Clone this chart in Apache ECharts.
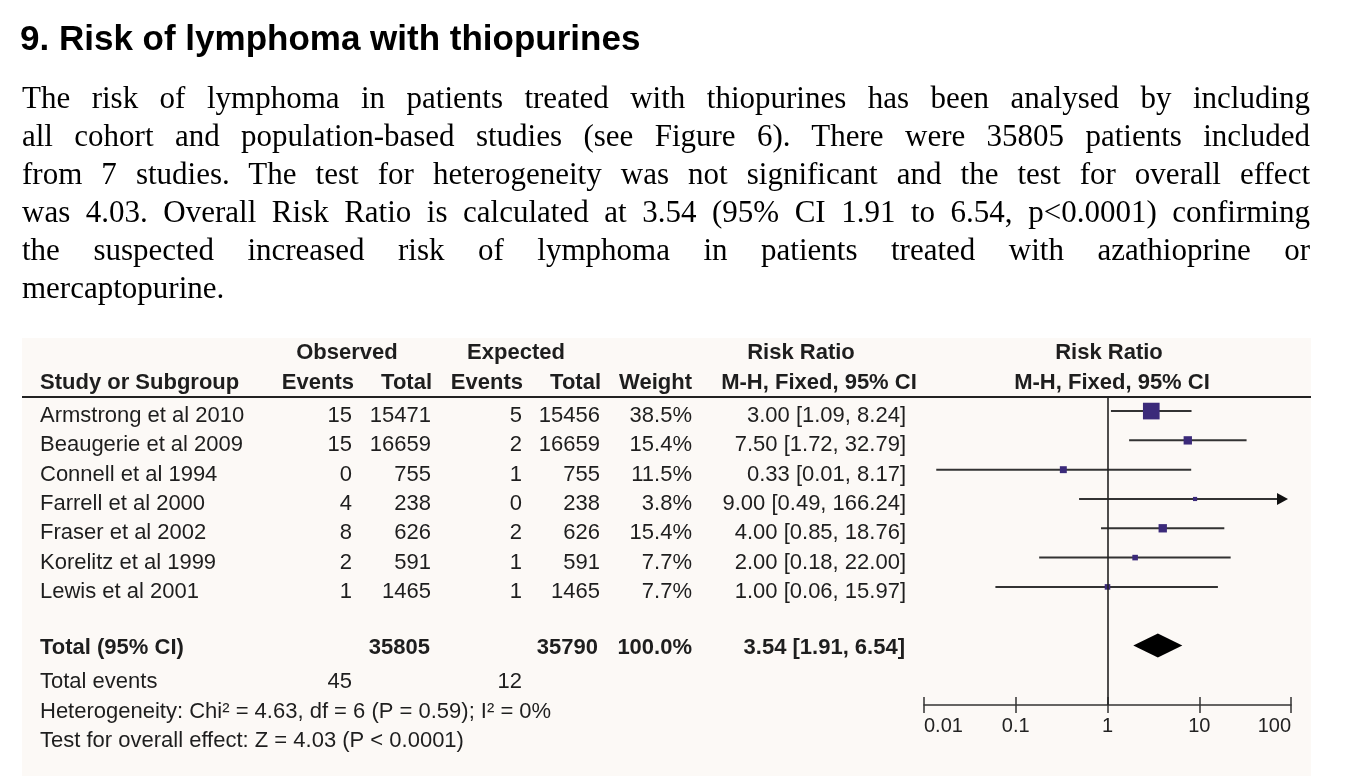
<!DOCTYPE html>
<html>
<head>
<meta charset="utf-8">
<script src="https://cdn.jsdelivr.net/npm/echarts@6/dist/echarts.min.js"></script>
<style>
  html, body { margin: 0; padding: 0; background: #ffffff; width: 1349px; height: 781px; overflow: hidden; }
  #chart { position: absolute; left: 0; top: 0; width: 1349px; height: 781px; }
  #heading { position: absolute; left: 20px; top: 17px; font: bold 35px "Liberation Sans", Arial, sans-serif; color: #000; line-height: 42px; white-space: nowrap; z-index: 2; }
  #para { position: absolute; left: 22px; top: 79px; width: 1288px; font: 31px "Liberation Serif", "Times New Roman", serif; color: #000; line-height: 38px; z-index: 2; }
  #para .ln { text-align: justify; text-align-last: justify; white-space: nowrap; }
  #para .ln.last { text-align: left; text-align-last: left; }
</style>
</head>
<body>
<div id="chart"></div>
<div id="heading">9. Risk of lymphoma with thiopurines</div>
<div id="para">
  <div class="ln">The risk of lymphoma in patients treated with thiopurines has been analysed by including</div>
  <div class="ln">all cohort and population-based studies (see Figure 6). There were 35805 patients included</div>
  <div class="ln">from 7 studies. The test for heterogeneity was not significant and the test for overall effect</div>
  <div class="ln">was 4.03. Overall Risk Ratio is calculated at 3.54 (95% CI 1.91 to 6.54, p&lt;0.0001) confirming</div>
  <div class="ln">the suspected increased risk of lymphoma in patients treated with azathioprine or</div>
  <div class="ln last">mercaptopurine.</div>
</div>
<script>
// ---------------- data ----------------
const studies   = ['Armstrong et al 2010', 'Beaugerie et al 2009', 'Connell et al 1994', 'Farrell et al 2000', 'Fraser et al 2002', 'Korelitz et al 1999', 'Lewis et al 2001'];
const obsEvents = [15, 15, 0, 4, 8, 2, 1];
const obsTotal  = [15471, 16659, 755, 238, 626, 591, 1465];
const expEvents = [5, 2, 1, 0, 2, 1, 1];
const expTotal  = [15456, 16659, 755, 238, 626, 591, 1465];
const weights   = [38.5, 15.4, 11.5, 3.8, 15.4, 7.7, 7.7];
const riskRatio = [3.00, 7.50, 0.33, 9.00, 4.00, 2.00, 1.00];
const ciLow     = [1.09, 1.72, 0.0136, 0.49, 0.85, 0.18, 0.06];
const ciHigh    = [8.24, 32.79, 8.17, 166.24, 18.76, 22.00, 15.97];
const totalObs = 35805, totalExp = 35790, totalWeight = 100.0;
const totalRR = 3.54, totalLow = 1.91, totalHigh = 6.54;
const totalEventsObs = 45, totalEventsExp = 12;
const heterogeneityText = 'Heterogeneity: Chi\u00B2 = 4.63, df = 6 (P = 0.59); I\u00B2 = 0%';
const overallEffectText = 'Test for overall effect: Z = 4.03 (P < 0.0001)';
const axisTickLabels = ['0.01', '0.1', '1', '10', '100'];

// ---------------- layout constants ----------------
const X_MIN = 0.01, X_MAX = 100;
const TOTAL_ROW = 8;
const GRID_TOP = 397, GRID_H = 308;
const FONT = '"Liberation Sans", Arial, sans-serif';
const FS = 22;
const TXT = '#1e1e1e';
const LINE = '#333333';
const SQUARE = '#3b2a7a';

const fmt2 = v => v.toFixed(2);
const ciLabel = (r, l, h) => fmt2(r) + ' [' + fmt2(l) + ', ' + fmt2(h) + ']';

const studyData = studies.map((s, i) => [riskRatio[i], i, ciLow[i], ciHigh[i], weights[i]]);

const chart = echarts.init(document.getElementById('chart'), null, { renderer: 'canvas' });

const option = {
  backgroundColor: 'transparent',
  animation: false,
  grid: { left: 924, right: 58, top: GRID_TOP, height: GRID_H, containLabel: false },
  xAxis: [
    {
      type: 'log', logBase: 10, min: X_MIN, max: X_MAX, position: 'bottom',
      axisLine: { show: true, onZero: false, lineStyle: { color: LINE, width: 1.5 } },
      axisTick: { show: true, inside: false, length: 8, lineStyle: { color: LINE, width: 1.5 } },
      axisLabel: {
        show: true, margin: 11, color: '#222', fontFamily: FONT, fontSize: 20,
        alignMinLabel: 'left', alignMaxLabel: 'right',
        formatter: v => {
          const e = Math.round(Math.log10(v));
          return axisTickLabels[e + 2] !== undefined ? axisTickLabels[e + 2] : '';
        }
      },
      splitLine: { show: false }, minorTick: { show: false }
    },
    {
      type: 'log', logBase: 10, min: X_MIN, max: X_MAX, position: 'top', offset: -GRID_H,
      axisLine: { show: false, onZero: false },
      axisTick: { show: true, inside: false, length: 8, lineStyle: { color: LINE, width: 1.5 } },
      axisLabel: { show: false }, splitLine: { show: false }
    }
  ],
  yAxis: {
    type: 'value', inverse: true, min: -0.48, max: 10.03,
    show: false, splitLine: { show: false }, axisLine: { onZero: false }
  },
  series: [
    {
      type: 'scatter', data: [], symbolSize: 0, silent: true,
      markLine: {
        silent: true, symbol: 'none', animation: false,
        label: { show: false },
        lineStyle: { color: '#222', width: 1.6, type: 'solid' },
        data: [{ xAxis: 1 }]
      },
      z: 3
    },
    {
      type: 'custom', name: 'studies', clip: false, z: 4,
      data: studyData,
      renderItem: (params, api) => {
        const rr = api.value(0), row = api.value(1), lo = api.value(2), hi = api.value(3), w = api.value(4);
        const p = api.coord([rr, row]);
        const l = api.coord([Math.max(lo, X_MIN), row]);
        const h = api.coord([Math.min(hi, X_MAX), row]);
        const children = [];
        const arrow = hi > X_MAX;
        const tipX = h[0] - 3;
        children.push({
          type: 'line',
          shape: { x1: l[0], y1: l[1], x2: arrow ? tipX - 8 : h[0], y2: h[1] },
          style: { stroke: LINE, lineWidth: 2 }
        });
        if (arrow) {
          children.push({
            type: 'polygon',
            shape: { points: [[tipX, h[1]], [tipX - 11, h[1] - 6], [tipX - 11, h[1] + 6]] },
            style: { fill: '#111' }
          });
        }
        const s = 2.8 + 0.36 * w;
        children.push({
          type: 'rect',
          shape: { x: p[0] - s / 2, y: p[1] - s / 2, width: s, height: s },
          style: { fill: SQUARE }
        });
        return { type: 'group', children };
      }
    },
    {
      type: 'custom', name: 'total', clip: false, z: 4,
      data: [[totalRR, TOTAL_ROW, totalLow, totalHigh]],
      renderItem: (params, api) => {
        const row = api.value(1);
        const c = api.coord([api.value(0), row]);
        const l = api.coord([api.value(2), row]);
        const h = api.coord([api.value(3), row]);
        const hh = 12;
        return {
          type: 'polygon',
          shape: { points: [[l[0], l[1]], [c[0], c[1] - hh], [h[0], h[1]], [c[0], c[1] + hh]] },
          style: { fill: '#000' }
        };
      }
    }
  ]
};

chart.setOption(option);

// ---------------- table text (graphic) ----------------
const rowY = i => chart.convertToPixel({ yAxisIndex: 0 }, i);
const g = [];
g.push({ type: 'rect', z: -10, silent: true, shape: { x: 22, y: 338, width: 1289, height: 438 }, style: { fill: '#fcf9f6' } });
g.push({ type: 'line', z: 5, silent: true, shape: { x1: 22, y1: GRID_TOP, x2: 1311, y2: GRID_TOP }, style: { stroke: '#222', lineWidth: 2 } });

function txt(text, x, y, align, bold) {
  g.push({
    type: 'text', x: x, y: y, z: 6, silent: true,
    style: { text: String(text), fill: TXT, font: (bold ? 'bold ' : '') + FS + 'px ' + FONT, align: align, verticalAlign: 'middle' }
  });
}

// headers
const H1 = 353, H2 = 383;
txt('Observed', 347, H1, 'center', true);
txt('Expected', 516, H1, 'center', true);
txt('Risk Ratio', 801, H1, 'center', true);
txt('Risk Ratio', 1109, H1, 'center', true);
txt('Study or Subgroup', 40, H2, 'left', true);
txt('Events', 354, H2, 'right', true);
txt('Total', 432, H2, 'right', true);
txt('Events', 523, H2, 'right', true);
txt('Total', 601, H2, 'right', true);
txt('Weight', 692, H2, 'right', true);
txt('M-H, Fixed, 95% CI', 819, H2, 'center', true);
txt('M-H, Fixed, 95% CI', 1112, H2, 'center', true);

// study rows
studies.forEach((s, i) => {
  const y = rowY(i) + 5;
  txt(s, 40, y, 'left', false);
  txt(obsEvents[i], 352, y, 'right', false);
  txt(obsTotal[i], 431, y, 'right', false);
  txt(expEvents[i], 522, y, 'right', false);
  txt(expTotal[i], 600, y, 'right', false);
  txt(weights[i].toFixed(1) + '%', 692, y, 'right', false);
  txt(ciLabel(riskRatio[i], ciLow[i], ciHigh[i]), 906, y, 'right', false);
});

// total row
const ty = rowY(TOTAL_ROW) + 2;
txt('Total (95% CI)', 40, ty, 'left', true);
txt(totalObs, 430, ty, 'right', true);
txt(totalExp, 598, ty, 'right', true);
txt(totalWeight.toFixed(1) + '%', 692, ty, 'right', true);
txt(ciLabel(totalRR, totalLow, totalHigh), 905, ty, 'right', true);

// footer
txt('Total events', 40, 682, 'left', false);
txt(totalEventsObs, 352, 682, 'right', false);
txt(totalEventsExp, 522, 682, 'right', false);
txt(heterogeneityText, 40, 712, 'left', false);
txt(overallEffectText, 40, 741, 'left', false);

chart.setOption({ graphic: { elements: g } });
</script>
</body>
</html>
